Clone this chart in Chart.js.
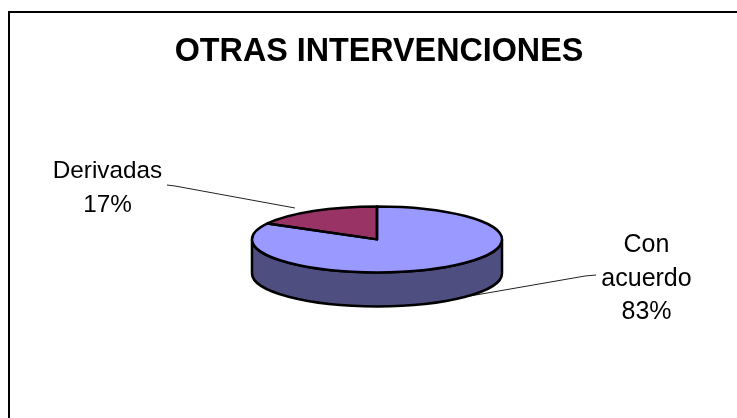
<!DOCTYPE html>
<html>
<head>
<meta charset="utf-8">
<title>Otras intervenciones</title>
<script src="https://cdn.jsdelivr.net/npm/chart.js@4"></script>
<style>
    html, body { margin: 0; padding: 0; background: #fff; }
    #wrap { position: relative; width: 737px; height: 418px; }
</style>
</head>
<body>
<div id="wrap"><canvas id="pieChart"></canvas></div>
<script>
// Chart data
const chartTitle = 'OTRAS INTERVENCIONES';
const categories = ['Con acuerdo', 'Derivadas'];
const percentages = [83, 17];
const labelLines = [['Con', 'acuerdo'], ['Derivadas']];

const sliceColors = ['#9999FF', '#993366'];
const sideColor = '#4E4E80';

// Squash the round pie into the tilted ellipse
const tilt = 0.264;
const depth = 34;
const shiftX = -2;

// Where the labels and leader lines sit
const labelPlaces = [
    { x: 646.5, y: 245.5, size: 25, line: [[596, 275], [585, 276], [470, 296]] },
    { x: 107.5, y: 171.5, size: 24.3, line: [[167, 185], [175, 186], [295, 208]] }
];

function pieGeometry(chart) {
    const arc = chart.getDatasetMeta(0).data[0];
    return { x: arc.x + shiftX, y: arc.y, r: arc.outerRadius };
}

// Frame, side wall and leader lines go under the pie
const underPie = {
    id: 'underPie',
    beforeDraw(chart) {
        const ctx = chart.ctx;
        ctx.save();
        ctx.strokeStyle = '#000';
        ctx.lineWidth = 2;
        ctx.beginPath();
        ctx.moveTo(9, 418);
        ctx.lineTo(9, 12);
        ctx.lineTo(737, 12);
        ctx.stroke();
        ctx.restore();
    },
    beforeDatasetsDraw(chart) {
        const ctx = chart.ctx;
        const p = pieGeometry(chart);
        ctx.save();

        ctx.strokeStyle = '#222';
        ctx.lineWidth = 1;
        labelPlaces.forEach(function(place) {
            ctx.beginPath();
            place.line.forEach(function(pt, i) {
                if (i === 0) ctx.moveTo(pt[0], pt[1]);
                else ctx.lineTo(pt[0], pt[1]);
            });
            ctx.stroke();
        });

        ctx.fillStyle = sideColor;
        ctx.strokeStyle = '#000';
        ctx.lineWidth = 2.5;
        ctx.beginPath();
        ctx.ellipse(p.x, p.y, p.r, p.r * tilt, 0, Math.PI, 0, true);
        ctx.lineTo(p.x + p.r, p.y + depth);
        ctx.ellipse(p.x, p.y + depth, p.r, p.r * tilt, 0, 0, Math.PI);
        ctx.closePath();
        ctx.fill();
        ctx.stroke();
        ctx.restore();

        // library arcs get drawn through this transform
        ctx.save();
        ctx.translate(p.x, p.y);
        ctx.scale(1, tilt);
        ctx.translate(-p.x + shiftX, -p.y);
    },
    afterDatasetsDraw(chart) {
        const ctx = chart.ctx;
        ctx.restore();

        // Outlines done here so the pen width is not squashed
        const p = pieGeometry(chart);
        ctx.save();
        ctx.strokeStyle = '#000';
        ctx.lineWidth = 2.5;
        ctx.lineJoin = 'round';
        chart.getDatasetMeta(0).data.forEach(function(arc) {
            ctx.beginPath();
            ctx.moveTo(p.x, p.y);
            ctx.ellipse(p.x, p.y, p.r, p.r * tilt, 0, arc.startAngle, arc.endAngle);
            ctx.closePath();
            ctx.stroke();
        });

        // Labels
        ctx.fillStyle = '#000';
        ctx.textAlign = 'center';
        ctx.textBaseline = 'middle';
        labelPlaces.forEach(function(place, i) {
            ctx.font = place.size + 'px "Liberation Sans", Arial, sans-serif';
            const lines = labelLines[i].concat(percentages[i] + '%');
            lines.forEach(function(text, n) {
                ctx.fillText(text, place.x, place.y + n * 33.5);
            });
        });
        ctx.restore();
    }
};

new Chart(document.getElementById('pieChart'), {
    type: 'pie',
    data: {
        labels: categories,
        datasets: [{
            data: percentages,
            backgroundColor: sliceColors,
            borderWidth: 0,
            radius: 125
        }]
    },
    options: {
        responsive: true,
        maintainAspectRatio: false,
        animation: false,
        layout: { padding: { left: 21, right: 0, top: 0, bottom: 30 } },
        plugins: {
            legend: { display: false },
            tooltip: { enabled: false },
            title: {
                display: true,
                text: chartTitle,
                color: '#000',
                font: { family: '"Liberation Sans", Arial, sans-serif', size: 32.3, weight: 'bold' },
                padding: { top: 33, bottom: 19 }
            }
        }
    },
    plugins: [underPie]
});
</script>
</body>
</html>
